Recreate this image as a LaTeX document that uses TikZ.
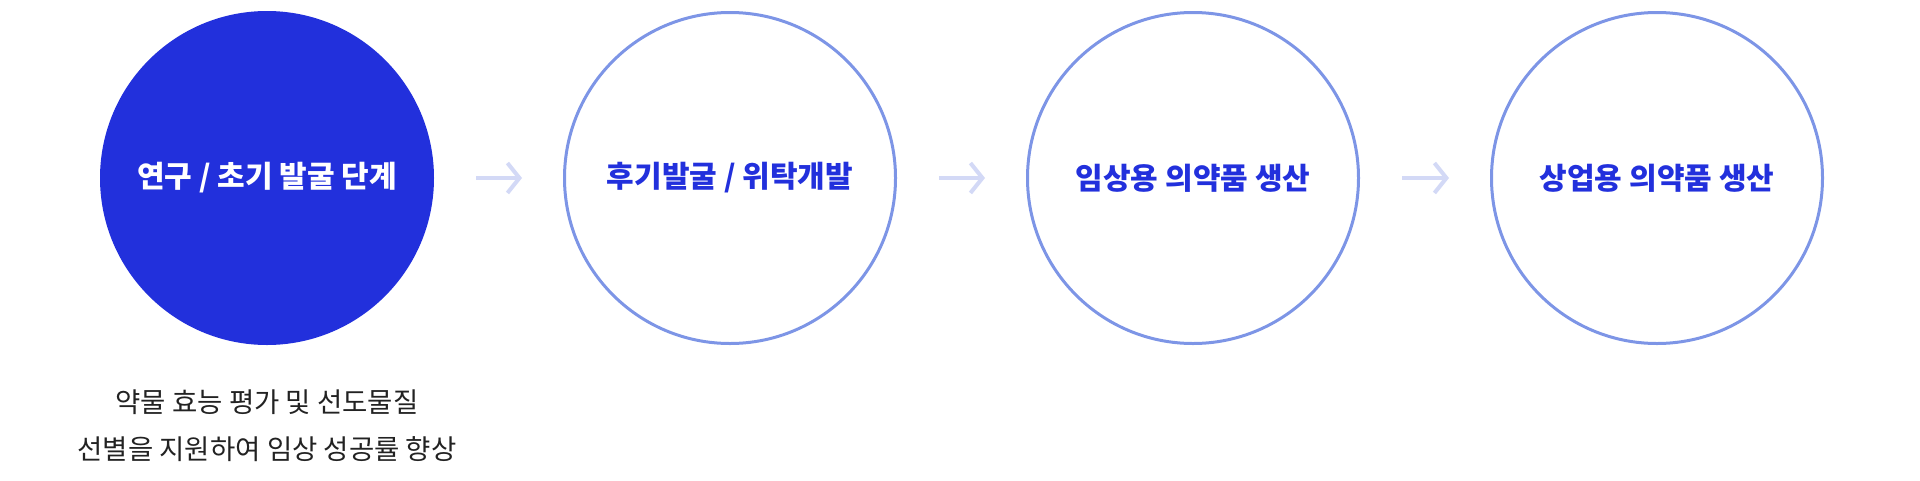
\documentclass[tikz,border=0pt]{standalone}
\usepackage{fontspec}
\newfontfamily\kr{Noto Sans CJK KR}
\usetikzlibrary{arrows.meta}
\definecolor{deep}{HTML}{2230DC}
\definecolor{ring}{HTML}{7D95E6}
\definecolor{pale}{HTML}{D3D9F6}
\definecolor{ink}{HTML}{222222}
\begin{document}
\begin{tikzpicture}[x=1pt,y=-1pt,
        stage/.style={circle,minimum size=331pt,inner sep=0pt,draw=ring,line width=3pt,
          text=deep,font=\kr\bfseries\fontsize{30}{36}\selectfont},
        first/.style={stage,fill=deep,draw=deep,text=white},
        flow/.style={pale,line width=4pt,-{Straight Barb[length=12pt,width=30pt]},
          shorten <=42pt,shorten >=41pt},
        note/.style={align=center,text=ink,font=\kr\fontsize{27.5}{47}\selectfont}]
        \useasboundingbox (0,0) rectangle (1920,480);
        % stages
        \node[first] (s1) at (267,178) {연구 / 초기 발굴 단계};
        \node[stage] (s2) at (730,178) {후기발굴 / 위탁개발};
        \node[stage] (s3) at (1193,178) {임상용 의약품 생산};
        \node[stage] (s4) at (1657,178) {상업용 의약품 생산};
        \node[note] (n1) at (267,426) {약물 효능 평가 및 선도물질\\선별을 지원하여 임상 성공률 향상};
        \draw[flow] (s1) -- (s2);
        \draw[flow] (s2) -- (s3);
        \draw[flow] (s3) -- (s4);
   \end{tikzpicture}
\end{document}
